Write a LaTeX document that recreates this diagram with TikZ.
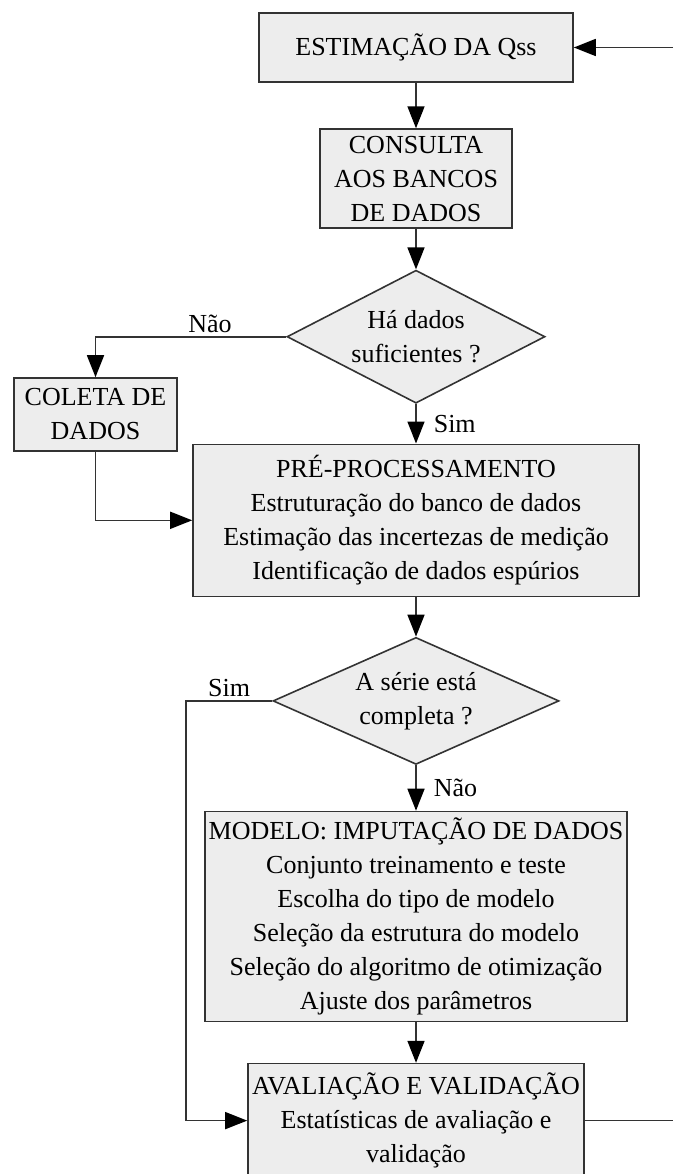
\documentclass[tikz,border=0pt]{standalone}
\usepackage{fontspec}
\setmainfont{Liberation Serif}
\usetikzlibrary{arrows.meta,positioning,shapes.geometric}
\tikzset{
  box/.style={draw=black!80, rectangle, align=center, fill=black!7, line width=1.6pt, inner sep=2pt},
  dbox/.style={draw=black!80, diamond, align=center, fill=black!7, line width=1.6pt, inner sep=0pt},
  arr/.style={-{Triangle[length=22pt,width=17pt,color=black]}, line width=1.6pt, draw=black!80},
  ln/.style={line width=1.6pt, draw=black!80},
  lbl/.style={inner sep=3pt},
}
\begin{document}
\begin{tikzpicture}[x=1pt, y=1pt, node distance=40.5pt, font=\fontsize{26}{34}\selectfont]
\useasboundingbox (0,0) rectangle (673,-1174);
\node[box, minimum width=314pt, minimum height=69pt] (est) at (416,-47.5) {ESTIMAÇÃO DA Qss};
\node[box, below=45.5pt of est, minimum width=192pt, minimum height=99pt] (cons) {CONSULTA\\AOS BANCOS\\DE DADOS};
\node[dbox, below=of cons, aspect=1.94, minimum width=258pt, minimum height=133pt] (d1) {Há dados\\suficientes ?};
\node[box, below=39.5pt of d1, minimum width=446pt, minimum height=152pt] (pre) {PRÉ-PROCESSAMENTO\\Estruturação do banco de dados\\Estimação das incertezas de medição\\Identificação de dados espúrios};
\node[box, minimum width=163pt, minimum height=73pt] (col) at (95.5,-414.5) {COLETA DE\\DADOS};
\node[dbox, below=39.5pt of pre, aspect=2.25, minimum width=286pt, minimum height=127pt] (d2) {A série está\\completa ?};
\node[box, below=45.5pt of d2, minimum width=422pt, minimum height=210pt] (mod) {MODELO: IMPUTAÇÃO DE DADOS\\Conjunto treinamento e teste\\Escolha do tipo de modelo\\Seleção da estrutura do modelo\\Seleção do algoritmo de otimização\\Ajuste dos parâmetros};
\node[box, below=of mod, minimum width=336pt, minimum height=114pt] (aval) {AVALIAÇÃO E VALIDAÇÃO\\Estatísticas de avaliação e\\validação};
% loose ends at the right border
\coordinate (edgeR) at (673,0);
\coordinate[left=86pt of d2.west] (simL);
\draw[arr] (est -| edgeR) -- (est);
\draw[arr] (est) -- (cons);
\draw[arr] (cons) -- (d1);
\draw[arr] (d1) -- node[lbl, right, xshift=14pt]{Sim} (pre);
\draw[arr] (d1.west) -| node[lbl, above, pos=0.2]{Não} (col);
\draw[arr] (col.south) |- (pre.west);
\draw[arr] (pre) -- (d2);
\draw[arr] (d2) -- node[lbl, right, xshift=14pt]{Não} (mod);
\draw[arr] (d2.west) -- node[lbl, above]{Sim} (simL) |- (aval.west);
\draw[arr] (mod) -- (aval);
\draw[ln] (aval) -- (aval -| edgeR);
\end{tikzpicture}
\end{document}
